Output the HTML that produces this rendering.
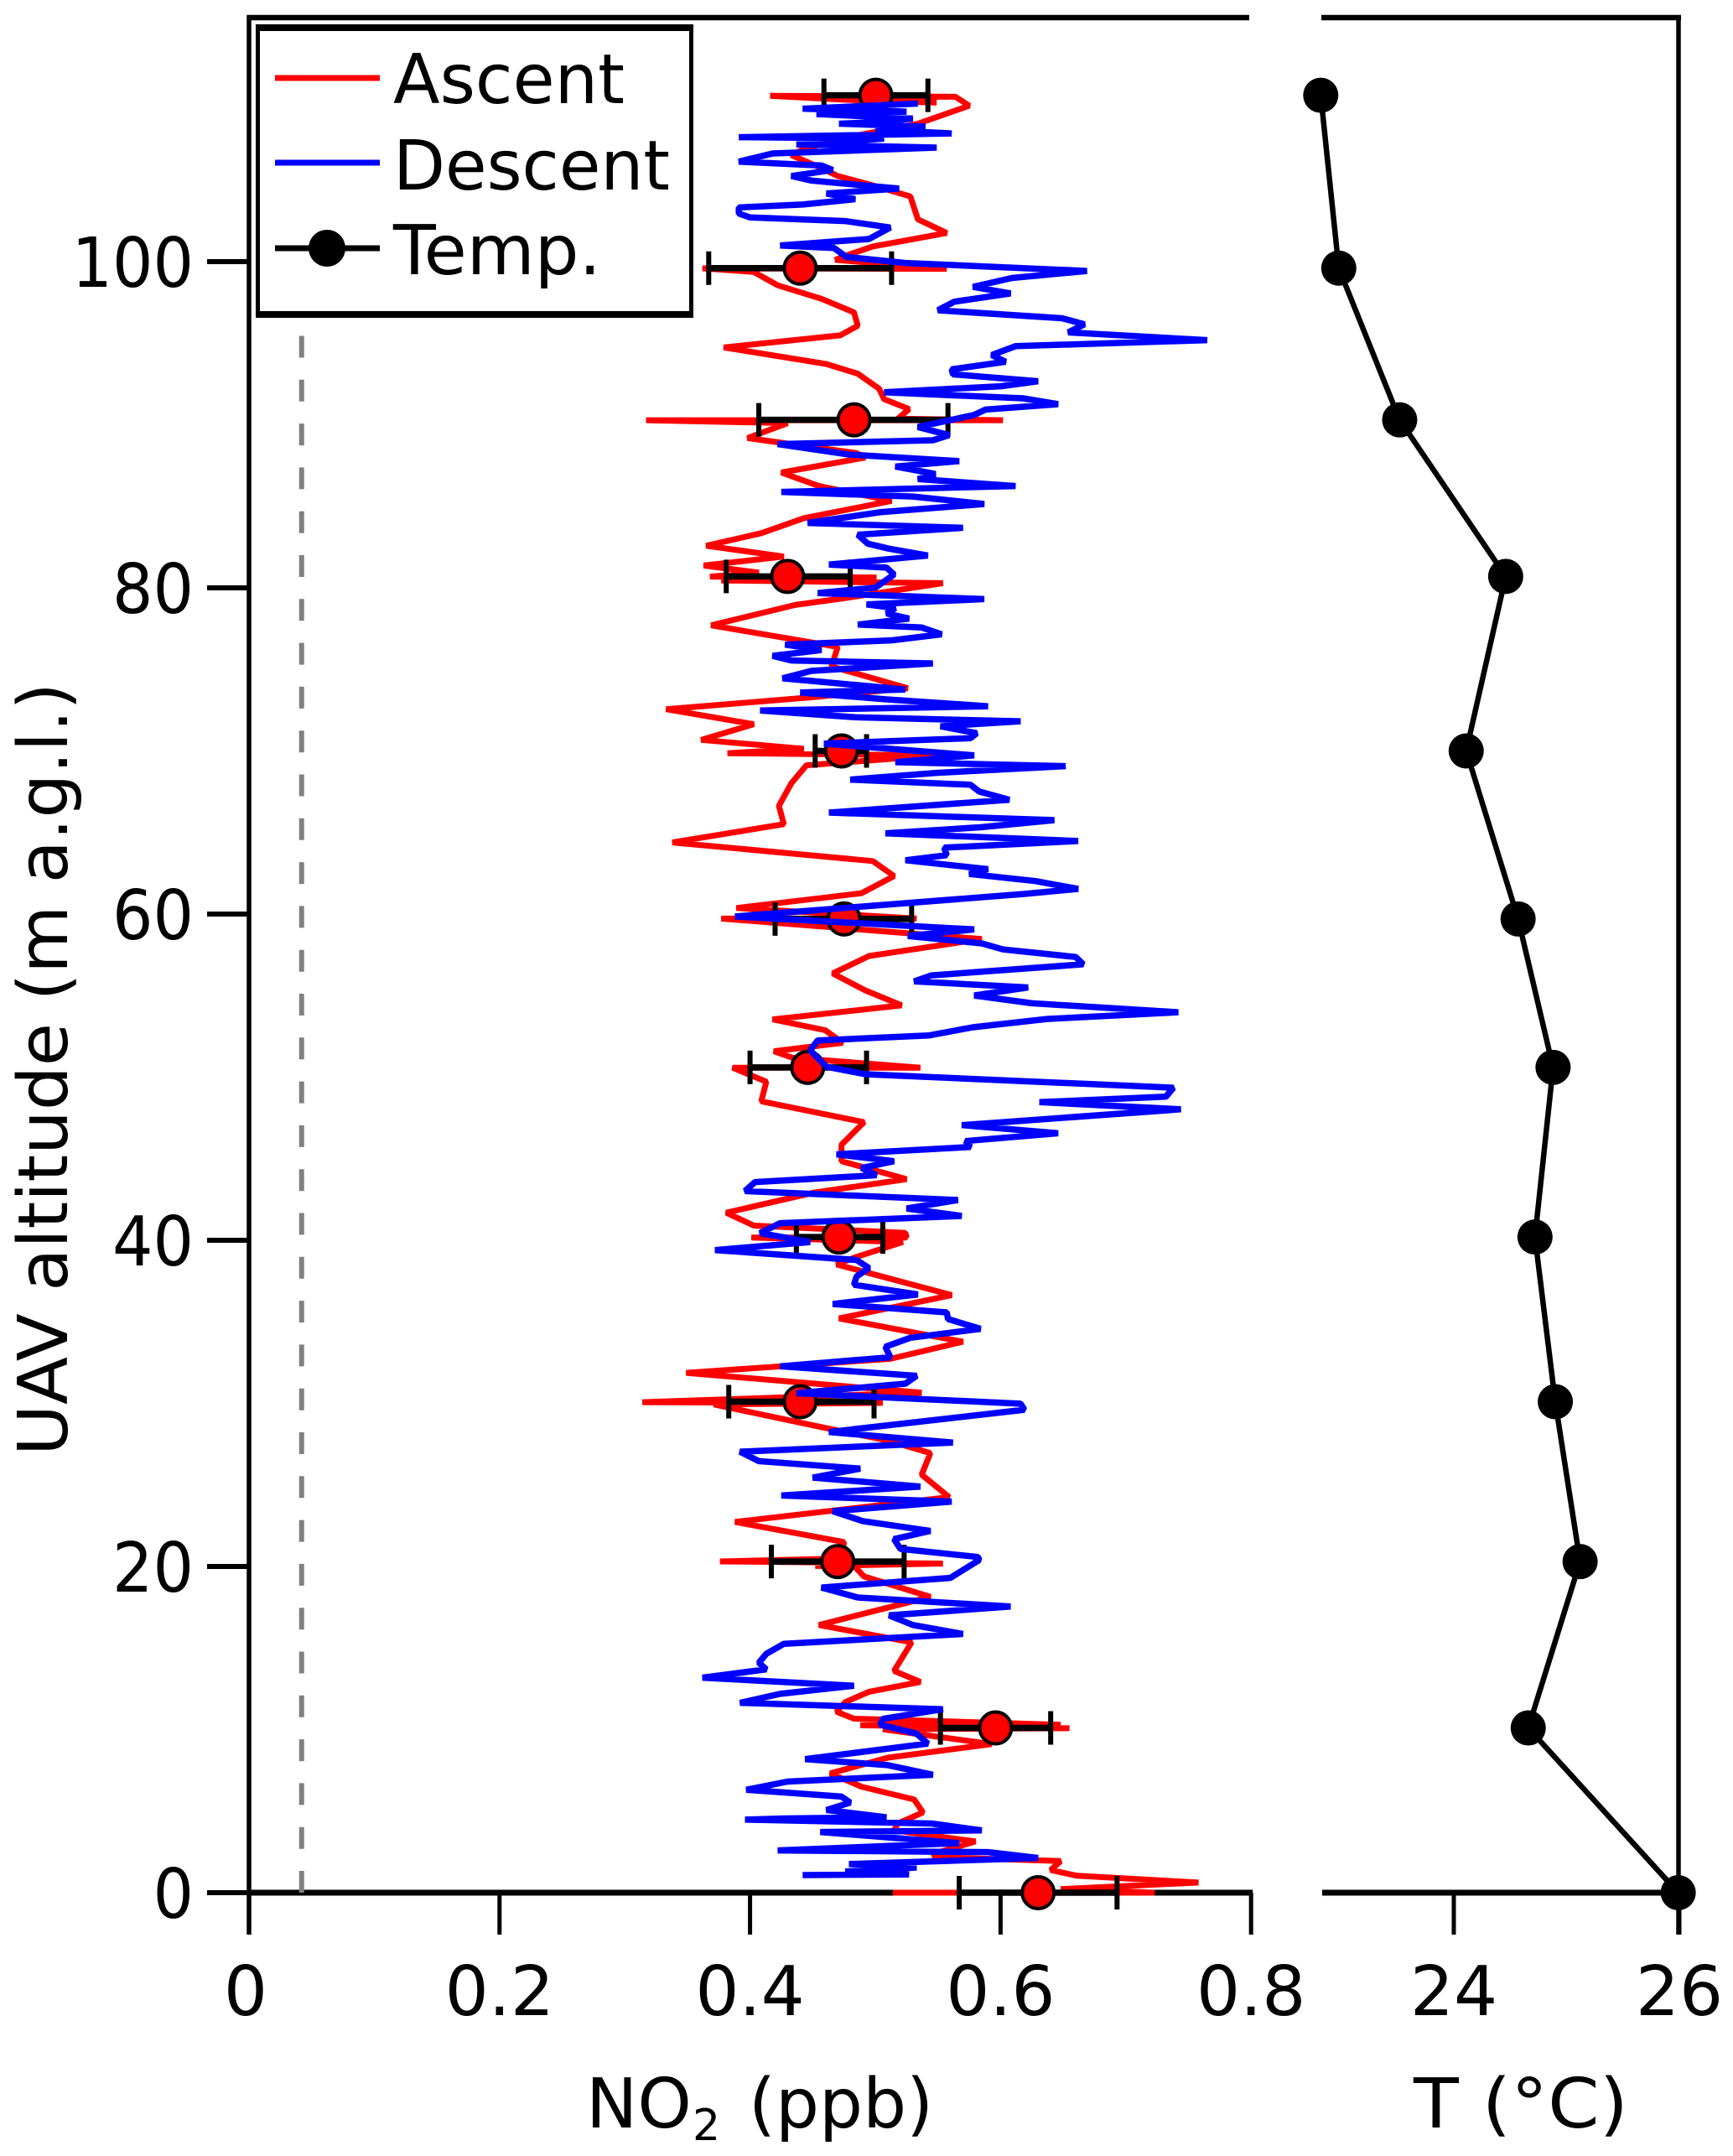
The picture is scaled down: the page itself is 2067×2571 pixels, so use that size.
<!DOCTYPE html>
<html lang="en">
<head>
<meta charset="utf-8">
<title>NO2 and temperature vertical profile</title>
<style>
html,body{margin:0;padding:0;background:#fff;}
svg{display:block;}
text{font-family:"DejaVu Sans","Liberation Sans",sans-serif;fill:#000;}
</style>
</head>
<body>
<svg id="chart" xmlns="http://www.w3.org/2000/svg" width="2067" height="2571" viewBox="0 0 2067 2571">
  <rect width="2067" height="2571" fill="#fff"/>
  <g id="axes"></g>
  <g id="series"></g>
  <g>
    <rect x="305" y="29" width="522" height="350" fill="#000"/>
    <rect x="310" y="37" width="512" height="334" fill="#fff"/>
    <line x1="328" x2="453" y1="93" y2="93" stroke="#ff0000" stroke-width="7"/>
    <text x="469" y="123" font-size="82" textLength="276" lengthAdjust="spacingAndGlyphs">Ascent</text>
    <line x1="328" x2="453" y1="194" y2="194" stroke="#0000ff" stroke-width="7"/>
    <text x="469" y="226" font-size="82" textLength="330" lengthAdjust="spacingAndGlyphs">Descent</text>
    <line x1="328" x2="453" y1="296" y2="296" stroke="#000" stroke-width="7"/>
    <circle cx="390" cy="296" r="22" fill="#000"/>
    <text x="469" y="327" font-size="82" textLength="248" lengthAdjust="spacingAndGlyphs">Temp.</text>
  </g>
  <text transform="translate(80,1275) rotate(-90)" text-anchor="middle" font-size="82" textLength="922" lengthAdjust="spacingAndGlyphs">UAV altitude (m a.g.l.)</text>
  <text y="2537" font-size="82"><tspan x="699">NO</tspan><tspan x="826" y="2552" font-size="52">2</tspan><tspan x="893" y="2537">(ppb)</tspan></text>
  <text x="1686" y="2537" font-size="82" textLength="256" lengthAdjust="spacingAndGlyphs">T (°C)</text>
</svg>
<script>
var altitudeTicks = [0, 20, 40, 60, 80, 100];
var no2Ticks = [0, 0.2, 0.4, 0.6, 0.8];
var no2TickLabels = ["0", "0.2", "0.4", "0.6", "0.8"];
var tempTicks = [24, 26];
var tempTickLabels = ["24", "26"];
var detectionLimit = [0.042];

var ascentAlt = [109.75,109.93,110.17,110.11,109.56,108.46,107.64,106.9,106.53,105.8,105.25,104.7,104.0,102.59,101.76,100.93,100.38,100.11,99.56,99.59,99.37,98.55,97.72,96.89,96.07,95.48,94.74,93.72,93.13,92.21,91.57,90.96,90.37,90.28,90.28,90.1,89.18,88.26,87.99,87.07,86.24,85.33,84.27,83.35,82.58,81.92,81.37,80.93,80.69,80.64,80.45,80.29,79.41,78.95,77.7,76.38,75.18,73.84,73.29,72.56,71.64,70.68,70.13,69.86,69.73,69.12,68.02,66.64,65.51,64.39,63.25,62.33,61.28,60.99,60.37,59.72,59.72,58.47,57.43,56.36,55.32,54.4,53.54,52.88,52.11,51.59,51.19,50.58,50.58,49.72,48.52,47.24,45.86,44.85,43.75,42.92,41.69,40.9,40.45,40.17,40.17,39.89,38.98,38.52,36.64,35.21,33.78,32.73,31.87,30.66,30.07,30.03,29.94,28.48,27.74,26.95,25.63,24.25,22.73,21.5,20.49,20.31,20.18,20.03,20.03,19.39,18.14,16.41,15.35,13.6,12.92,12.32,11.68,11.09,10.67,10.3,10.26,10.08,10.02,9.11,8.28,7.31,6.5,5.71,4.92,4.24,3.82,3.14,2.49,2.18,1.94,1.39,1.04,0.62,0.22,0,0];
var ascentNo2 = [0.549,0.475,0.416,0.564,0.575,0.534,0.479,0.443,0.433,0.455,0.470,0.497,0.528,0.534,0.557,0.498,0.477,0.468,0.557,0.362,0.403,0.422,0.457,0.483,0.486,0.472,0.379,0.461,0.486,0.503,0.507,0.527,0.518,0.602,0.317,0.430,0.398,0.485,0.492,0.425,0.455,0.513,0.443,0.409,0.365,0.427,0.363,0.407,0.368,0.501,0.377,0.554,0.479,0.436,0.369,0.470,0.465,0.526,0.449,0.333,0.403,0.361,0.443,0.382,0.549,0.445,0.433,0.423,0.427,0.338,0.498,0.515,0.489,0.458,0.389,0.533,0.377,0.585,0.495,0.466,0.492,0.521,0.418,0.460,0.474,0.419,0.434,0.536,0.386,0.413,0.409,0.491,0.473,0.473,0.525,0.451,0.381,0.403,0.524,0.525,0.401,0.522,0.485,0.469,0.561,0.471,0.570,0.512,0.349,0.537,0.314,0.506,0.371,0.461,0.509,0.544,0.537,0.559,0.388,0.475,0.473,0.376,0.554,0.452,0.483,0.491,0.544,0.455,0.529,0.515,0.536,0.495,0.476,0.469,0.483,0.648,0.488,0.655,0.506,0.593,0.510,0.464,0.489,0.531,0.538,0.518,0.515,0.580,0.551,0.546,0.648,0.640,0.661,0.758,0.648,0.723,0.514];

var descentAlt = [109.69,109.38,109.2,109.05,108.77,108.55,108.46,108.28,108.09,107.86,107.63,107.54,107.18,106.99,106.63,106.13,105.89,105.62,105.25,104.97,104.48,104.18,103.83,103.5,103.32,102.95,102.71,102.49,102.09,101.39,100.99,100.84,100.29,99.92,99.43,99.0,98.45,98.05,97.54,97.02,96.53,96.16,95.66,95.19,94.82,94.27,93.86,93.4,93.09,92.67,92.36,91.99,91.62,91.26,90.93,90.6,89.86,89.36,89.05,88.81,88.17,87.77,87.44,86.98,86.67,86.24,85.88,85.6,85.14,84.64,83.98,83.68,83.26,82.71,82.4,81.98,81.43,81.24,80.82,80.01,79.68,79.31,78.98,78.76,78.43,78.12,77.75,77.57,77.15,76.78,76.52,76.19,75.83,75.55,75.37,74.91,74.45,73.77,73.59,73.16,72.74,72.48,72.06,71.82,71.51,71.09,70.78,70.45,69.73,69.31,69.07,68.66,68.24,67.93,67.51,67.01,66.64,66.22,65.76,65.32,64.95,64.48,64.07,63.61,63.3,62.75,62.46,62.02,61.54,61.23,59.85,59.06,58.66,58.2,57.83,57.37,56.92,56.24,55.87,55.5,55.01,54.53,53.98,53.57,53.06,52.56,52.25,51.65,50.64,50.18,49.35,48.8,48.47,48.03,47.06,46.56,46.08,45.72,45.27,44.85,44.43,43.99,43.57,43.02,42.47,41.95,41.49,41.05,40.44,39.89,39.4,38.79,38.3,37.78,37.27,36.68,36.09,35.58,35.17,34.57,34.02,33.47,32.83,32.27,31.69,31.21,30.62,29.98,29.61,28.24,27.6,27.04,26.46,26.0,25.45,24.9,24.35,23.98,23.39,22.78,22.18,21.68,21.08,20.58,20.4,19.3,18.71,18.1,17.55,17.0,16.41,15.86,15.26,14.65,14.1,13.69,13.18,12.69,12.19,11.64,11.25,10.66,10.3,9.75,9.14,8.19,7.82,7.23,6.81,6.31,5.89,5.52,5.07,4.62,4.55,4.48,4.24,3.82,3.72,3.04,2.59,2.49,2.13,1.76,1.54,1.3,1.12,1.08];
var descentNo2 = [0.534,0.442,0.525,0.453,0.530,0.500,0.471,0.540,0.500,0.561,0.391,0.507,0.437,0.549,0.418,0.391,0.457,0.466,0.433,0.449,0.519,0.461,0.484,0.442,0.391,0.391,0.400,0.476,0.512,0.495,0.424,0.467,0.477,0.524,0.669,0.609,0.578,0.608,0.563,0.550,0.649,0.667,0.654,0.765,0.612,0.593,0.604,0.561,0.562,0.630,0.600,0.507,0.618,0.646,0.588,0.579,0.534,0.559,0.546,0.422,0.479,0.567,0.516,0.548,0.534,0.612,0.425,0.530,0.587,0.504,0.446,0.570,0.486,0.494,0.511,0.542,0.463,0.509,0.515,0.500,0.454,0.587,0.493,0.516,0.509,0.527,0.486,0.537,0.553,0.513,0.428,0.457,0.418,0.433,0.546,0.449,0.426,0.524,0.440,0.509,0.590,0.408,0.485,0.616,0.552,0.581,0.576,0.459,0.579,0.516,0.652,0.549,0.480,0.576,0.583,0.607,0.539,0.463,0.643,0.584,0.508,0.662,0.555,0.557,0.524,0.590,0.575,0.628,0.662,0.618,0.388,0.579,0.526,0.585,0.602,0.660,0.666,0.545,0.531,0.622,0.579,0.625,0.742,0.637,0.578,0.543,0.454,0.448,0.461,0.492,0.738,0.732,0.631,0.744,0.569,0.646,0.572,0.576,0.469,0.515,0.489,0.501,0.404,0.396,0.566,0.525,0.569,0.424,0.408,0.448,0.372,0.485,0.495,0.485,0.483,0.534,0.466,0.557,0.558,0.584,0.528,0.508,0.512,0.424,0.533,0.524,0.437,0.616,0.619,0.463,0.562,0.392,0.407,0.488,0.450,0.536,0.425,0.561,0.466,0.490,0.544,0.515,0.520,0.582,0.583,0.560,0.457,0.486,0.608,0.511,0.530,0.570,0.427,0.413,0.407,0.413,0.362,0.483,0.424,0.392,0.554,0.506,0.504,0.533,0.542,0.444,0.510,0.546,0.430,0.397,0.473,0.480,0.461,0.509,0.427,0.396,0.545,0.585,0.456,0.567,0.422,0.590,0.630,0.479,0.533,0.476,0.527,0.442];

var meanAlt = [110.2,99.6,90.3,80.7,70.0,59.7,50.6,40.2,30.1,20.3,10.1,0];
var meanNo2 = [0.5004,0.440,0.483,0.430,0.473,0.475,0.446,0.471,0.440,0.470,0.596,0.630];
var errLow = [0.459,0.367,0.407,0.381,0.452,0.420,0.400,0.437,0.383,0.417,0.552,0.567];
var errHigh = [0.542,0.513,0.558,0.480,0.493,0.529,0.493,0.506,0.499,0.523,0.640,0.693];
var tempValues = [22.82,22.98,23.52,24.46,24.11,24.57,24.88,24.72,24.90,25.12,24.66,25.99];

var NS = "http://www.w3.org/2000/svg";
var axes = document.getElementById("axes");
var series = document.getElementById("series");
function xNo2(v){ return 297 + 1494 * v; }
function xTemp(t){ return 1734 + 134.5 * (t - 24); }
function yAlt(h){ return 2257 - 19.45 * h; }
function make(tag, parent, attrs){
  var el = document.createElementNS(NS, tag);
  for (var k in attrs) el.setAttribute(k, attrs[k]);
  parent.appendChild(el);
  return el;
}
function linePts(xs, ys, xf){
  var p = [];
  for (var i = 0; i < xs.length; i++) p.push(xf(xs[i]).toFixed(1) + "," + yAlt(ys[i]).toFixed(1));
  return p.join(" ");
}
var el;
// axes frame
el = make("line", axes, {x1:297, x2:297, y1:18, y2:2307, stroke:"#000", "stroke-width":5.5});


el = make("line", axes, {x1:2002, x2:2002, y1:18, y2:2307, stroke:"#000", "stroke-width":5.5});


el = make("line", axes, {x1:295, x2:1490, y1:21, y2:21, stroke:"#000", "stroke-width":6.5});


el = make("line", axes, {x1:1576, x2:2005, y1:21, y2:21, stroke:"#000", "stroke-width":6.5});


el = make("line", axes, {x1:xNo2(0), x2:xNo2(0.8)+2, y1:yAlt(0), y2:yAlt(0), stroke:"#000", "stroke-width":7});


el = make("line", axes, {x1:1577, x2:2005, y1:yAlt(0), y2:yAlt(0), stroke:"#000", "stroke-width":7});


// y ticks
altitudeTicks.forEach(function(h){
  var t = make("line", axes, {x1:247, x2:297, y1:yAlt(h), y2:yAlt(h), stroke:"#000", "stroke-width":6});
  
  
  var label = String(h);
  var l = make("text", axes, {x:231 - label.length * 48.5, y:yAlt(h)+30, "font-size":82, textLength:label.length * 48.5, lengthAdjust:"spacingAndGlyphs"});
  
  
  l.textContent = label;
});
// no2 ticks
no2Ticks.forEach(function(v, i){
  var t = make("line", axes, {x1:xNo2(v), x2:xNo2(v), y1:yAlt(0), y2:2307, stroke:"#000", "stroke-width":5});
  
  
  var l = make("text", axes, {x:xNo2(v)-(i===0?4:0), y:2403, "font-size":82, "text-anchor":"middle"});
  
  
  l.textContent = no2TickLabels[i];
});
// temp ticks
tempTicks.forEach(function(v, i){
  var t = make("line", axes, {x1:xTemp(v), x2:xTemp(v), y1:yAlt(0), y2:2307, stroke:"#000", "stroke-width":5});
  
  
  var l = make("text", axes, {x:xTemp(v), y:2403, "font-size":82, "text-anchor":"middle"});
  
  
  l.textContent = tempTickLabels[i];
});
// detection limit
el = make("line", series, {x1:xNo2(detectionLimit[0]), x2:xNo2(detectionLimit[0]), y1:yAlt(0), y2:40, stroke:"#808080", "stroke-width":6, "stroke-dasharray":"26 26.3"});


// ascent
el = make("polyline", series, {points:linePts(ascentNo2, ascentAlt, xNo2), fill:"none", stroke:"#ff0000", "stroke-width":7, "stroke-linejoin":"bevel"});


// error bars and means
meanNo2.forEach(function(v, i){
  var y = yAlt(meanAlt[i]);
  var b = make("line", series, {x1:xNo2(errLow[i]), x2:xNo2(errHigh[i]), y1:y, y2:y, stroke:"#000", "stroke-width":7.5});
  
  
  var c1 = make("line", series, {x1:xNo2(errLow[i]), x2:xNo2(errLow[i]), y1:y-20, y2:y+20, stroke:"#000", "stroke-width":6});
  
  
  var c2 = make("line", series, {x1:xNo2(errHigh[i]), x2:xNo2(errHigh[i]), y1:y-20, y2:y+20, stroke:"#000", "stroke-width":6});
  
  
  var m = make("circle", series, {cx:xNo2(v), cy:y, r:19, fill:"#ff0000", stroke:"#000", "stroke-width":4});
  
  
});
// descent
el = make("polyline", series, {points:linePts(descentNo2, descentAlt, xNo2), fill:"none", stroke:"#0000ff", "stroke-width":7.5, "stroke-linejoin":"bevel"});


// temperature
el = make("polyline", series, {points:linePts(tempValues, meanAlt, xTemp), fill:"none", stroke:"#000", "stroke-width":6.5, "stroke-linejoin":"round"});


tempValues.forEach(function(t, i){
  var m = make("circle", series, {cx:xTemp(t), cy:yAlt(meanAlt[i]), r:21, fill:"#000"});
  
  
});
</script>
</body>
</html>
